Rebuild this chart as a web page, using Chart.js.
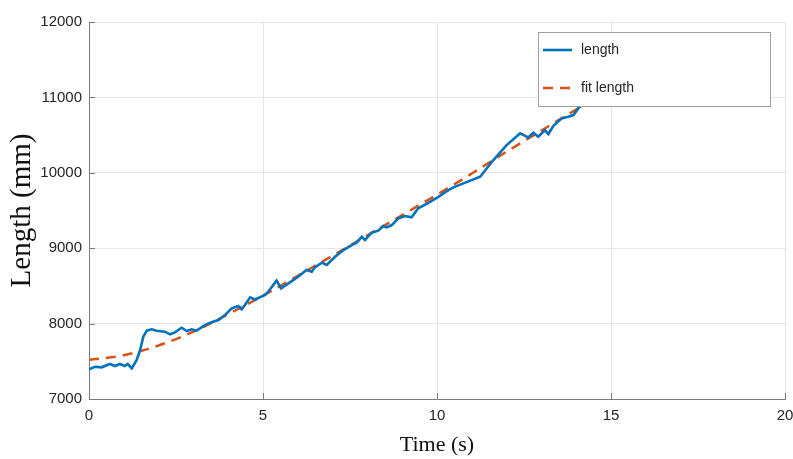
<!DOCTYPE html>
<html>
<head>
<meta charset="utf-8">
<script src="https://cdn.jsdelivr.net/npm/chart.js@4.4.1/dist/chart.umd.min.js"></script>
<style>
  html, body { margin: 0; padding: 0; background: #ffffff; }
  #wrap { width: 793px; height: 459px; }
</style>
</head>
<body>
<div id="wrap"><canvas id="c" width="793" height="459"></canvas></div>
<script>
// ---- data ----
const timeS = [0.00,0.17,0.36,0.60,0.75,0.89,1.03,1.11,1.23,1.37,1.47,1.56,1.66,1.80,1.94,2.18,2.33,2.47,2.66,2.81,2.95,3.09,3.19,3.33,3.52,3.72,3.91,4.10,4.29,4.39,4.48,4.63,4.77,5.06,5.15,5.39,5.52,5.73,6.01,6.25,6.40,6.49,6.69,6.83,7.07,7.31,7.55,7.69,7.84,7.93,8.12,8.31,8.46,8.55,8.70,8.89,9.08,9.27,9.46,9.75,10.04,10.23,10.33,10.47,10.76,11.24,11.62,12.00,12.39,12.62,12.77,12.91,13.10,13.20,13.34,13.58,13.77,13.92,14.06,14.16,14.50,15.00];
const lengthMm = [7394,7428,7420,7464,7437,7464,7437,7464,7407,7517,7650,7826,7906,7924,7906,7893,7858,7884,7945,7902,7924,7906,7937,7981,8017,8047,8114,8203,8233,8189,8246,8348,8320,8379,8423,8569,8468,8534,8622,8710,8688,8746,8808,8777,8887,8976,9042,9073,9152,9108,9205,9232,9294,9276,9307,9396,9427,9409,9529,9600,9680,9740,9771,9807,9860,9948,10169,10368,10523,10470,10531,10478,10567,10514,10620,10722,10743,10766,10854,10898,11050,11200];
const fitTimeS = [0,1,2,3,4,5,6,7,8,9,10,11,12,13,14,15];
const fitLengthMm = [7520,7580,7710,7893,8125,8370,8635,8900,9170,9440,9710,9990,10280,10560,10840,11120];
const xTicks = [0,5,10,15,20];
const yTicks = [7000,8000,9000,10000,11000,12000];
const seriesNames = ['length','fit length'];

const BLUE = '#0072BD';
const RED = '#D95319';
const AXIS = '#7a7a7a';

const toPts = (xs, ys) => xs.map((x, i) => ({x: x, y: ys[i]}));

// inward tick marks (MATLAB style), placed through the chart scales
const innerTicks = {
  id: 'innerTicks',
  afterDatasetsDraw(chart) {
    const {ctx, chartArea: a, scales} = chart;
    ctx.save();
    ctx.strokeStyle = AXIS;
    ctx.lineWidth = 1;
    ctx.beginPath();
    xTicks.forEach(v => {
      const px = Math.round(scales.x.getPixelForValue(v)) + 0.5;
      ctx.moveTo(px, a.bottom); ctx.lineTo(px, a.bottom - 6);
    });
    yTicks.forEach(v => {
      const py = Math.round(scales.y.getPixelForValue(v)) + 0.5;
      ctx.moveTo(a.left, py); ctx.lineTo(a.left + 6, py);
    });
    ctx.stroke();
    ctx.restore();
  }
};

// boxed legend in the upper right, drawn over the lines
const boxLegend = {
  id: 'boxLegend',
  afterDatasetsDraw(chart) {
    const {ctx} = chart;
    const bx = 538.5, by = 32.5, bw = 232, bh = 74;
    ctx.save();
    ctx.fillStyle = '#ffffff';
    ctx.fillRect(bx, by, bw, bh);
    ctx.strokeStyle = '#a0a0a0';
    ctx.lineWidth = 1;
    ctx.strokeRect(bx, by, bw, bh);
    const rows = [50, 88];
    chart.data.datasets.forEach((ds, i) => {
      ctx.beginPath();
      ctx.strokeStyle = ds.borderColor;
      ctx.lineWidth = ds.borderWidth;
      ctx.setLineDash(ds.borderDash || []);
      ctx.moveTo(543, rows[i]); ctx.lineTo(572, rows[i]);
      ctx.stroke();
      ctx.setLineDash([]);
      ctx.fillStyle = '#262626';
      ctx.font = '14px "Liberation Sans", Arial, sans-serif';
      ctx.textBaseline = 'middle';
      ctx.textAlign = 'left';
      ctx.fillText(ds.label, 581, rows[i]);
    });
    ctx.restore();
  }
};

new Chart(document.getElementById('c'), {
  type: 'line',
  data: {
    datasets: [
      {
        label: seriesNames[0],
        data: toPts(timeS, lengthMm),
        borderColor: BLUE,
        borderWidth: 2.6,
        pointRadius: 0,
        tension: 0,
        fill: false
      },
      {
        label: seriesNames[1],
        data: toPts(fitTimeS, fitLengthMm),
        borderColor: RED,
        borderWidth: 2.5,
        borderDash: [10, 7],
        pointRadius: 0,
        tension: 0.4,
        cubicInterpolationMode: 'monotone',
        fill: false
      }
    ]
  },
  options: {
    responsive: false,
    animation: false,
    events: [],
    layout: { padding: { left: 0, right: 8, top: 22, bottom: 0 } },
    plugins: { legend: { display: false }, tooltip: { enabled: false } },
    scales: {
      x: {
        type: 'linear',
        min: 0, max: 20,
        afterBuildTicks: s => { s.ticks = xTicks.map(v => ({value: v})); },
        afterFit: s => { s.height = 60; s.paddingLeft = 0; s.paddingRight = 0; },
        grid: { color: '#e6e6e6', drawTicks: false, lineWidth: 1 },
        border: { color: AXIS, width: 1 },
        ticks: {
          padding: 8,
          color: '#262626',
          font: { family: '"Liberation Sans", Arial, sans-serif', size: 15 },
          maxRotation: 0,
          callback: v => String(v)
        },
        title: {
          display: true,
          text: 'Time (s)',
          color: '#111111',
          font: { family: '"Liberation Serif", "Times New Roman", serif', size: 22 },
          padding: { top: 0, bottom: 1 }
        }
      },
      y: {
        type: 'linear',
        min: 7000, max: 12000,
        afterBuildTicks: s => { s.ticks = yTicks.map(v => ({value: v})); },
        afterFit: s => { s.width = 89; s.paddingTop = 0; s.paddingBottom = 0; },
        grid: { color: '#e6e6e6', drawTicks: false, lineWidth: 1 },
        border: { color: AXIS, width: 1 },
        ticks: {
          padding: 7,
          color: '#262626',
          font: { family: '"Liberation Sans", Arial, sans-serif', size: 15 },
          callback: v => String(v)
        },
        title: {
          display: true,
          text: 'Length (mm)',
          color: '#111111',
          font: { family: '"Liberation Serif", "Times New Roman", serif', size: 29 },
          padding: { top: 5, bottom: 0 }
        }
      }
    }
  },
  plugins: [innerTicks, boxLegend]
});
</script>
</body>
</html>
